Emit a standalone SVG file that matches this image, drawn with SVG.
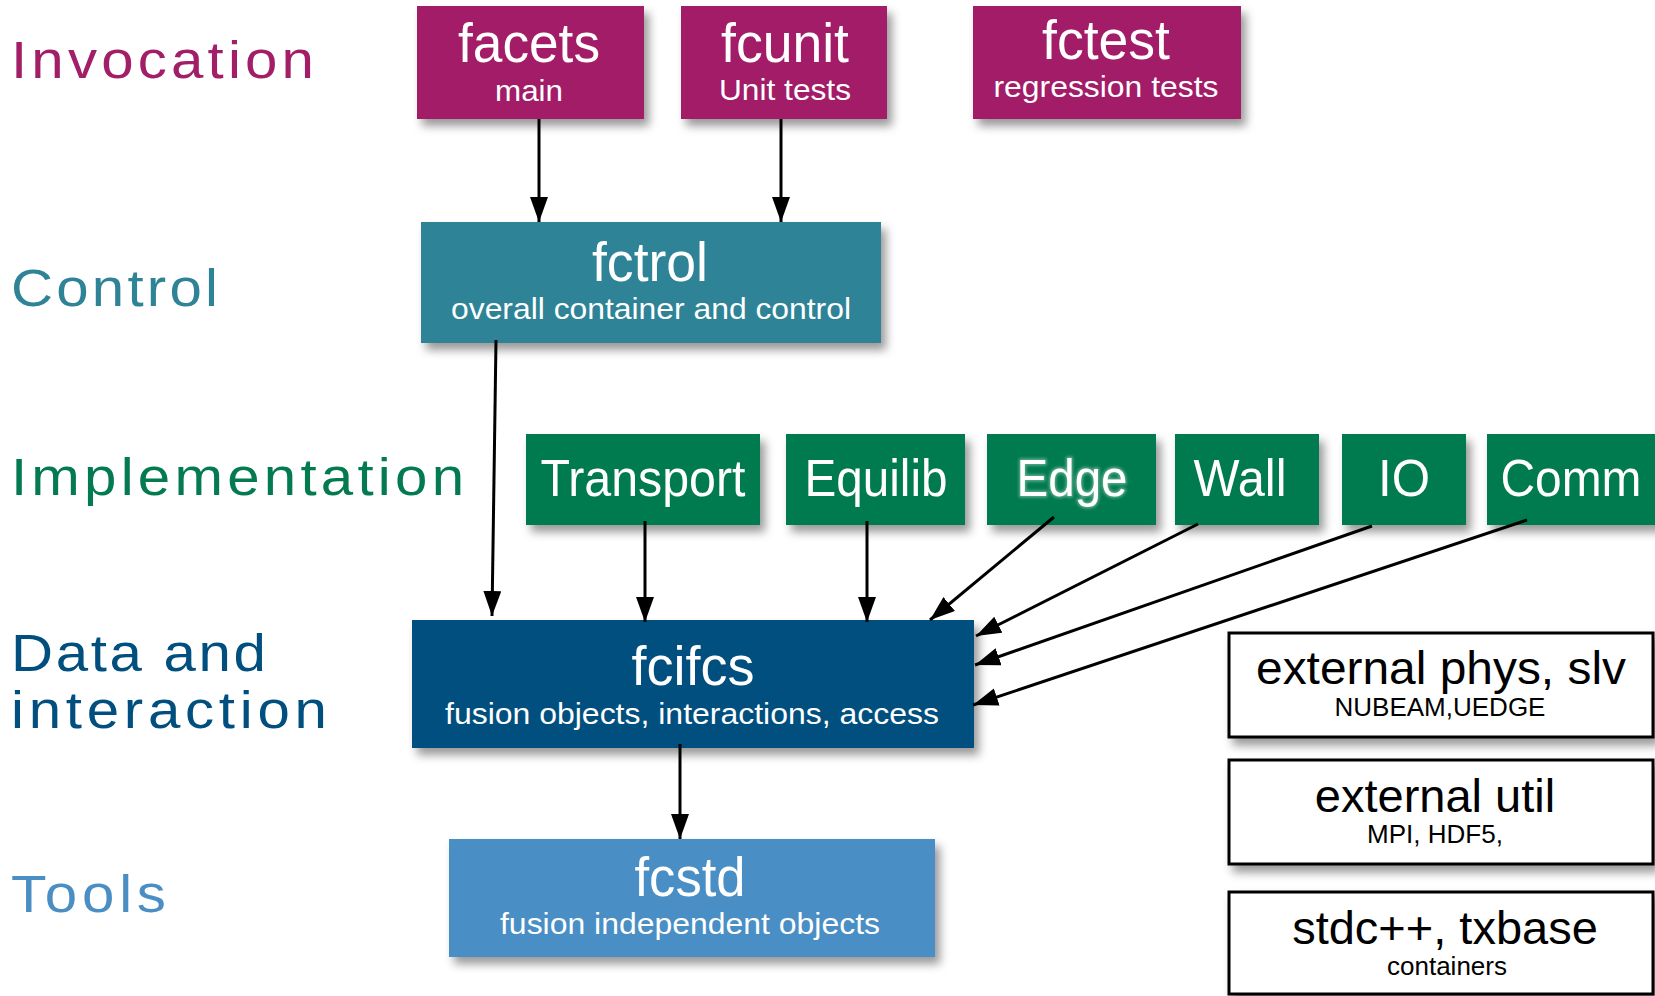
<svg xmlns="http://www.w3.org/2000/svg" width="1655" height="996" viewBox="0 0 1655 996">
  <defs>
    <filter id="shadow" x="-10%" y="-15%" width="130%" height="150%">
      <feDropShadow dx="5" dy="7" stdDeviation="5" flood-color="#000" flood-opacity="0.4"/>
    </filter>
    <filter id="halo" x="-10%" y="-20%" width="120%" height="140%">
      <feGaussianBlur stdDeviation="1.6"/>
    </filter>
    <marker id="arrow" markerUnits="userSpaceOnUse" markerWidth="28" markerHeight="20" refX="25" refY="9" orient="auto">
      <path d="M0,0 L25,9 L0,18 Z" fill="#000"/>
    </marker>
    <style>
      .layer { font-family: "Liberation Sans", Arial, sans-serif; font-size: 52px; }
      .inv { fill: #a21f67; }
      .ctl { fill: #2f8396; }
      .imp { fill: #037a4f; }
      .dat { fill: #004f7e; }
      .tls { fill: #4a8ec4; }
      .box { filter: url(#shadow); }
      .title { font-family: "Liberation Sans", Arial, sans-serif; font-size: 55px; fill: #fff; text-anchor: middle; }
      .sub { font-family: "Liberation Sans", Arial, sans-serif; font-size: 30px; fill: #fff; text-anchor: middle; }
      .impl { font-family: "Liberation Sans", Arial, sans-serif; font-size: 52px; fill: #fff; text-anchor: middle; }
      .ext { fill: #fff; stroke: #000; stroke-width: 3; filter: url(#shadow); }
      .extT { font-family: "Liberation Sans", Arial, sans-serif; font-size: 47px; fill: #000; text-anchor: middle; }
      .extS { font-family: "Liberation Sans", Arial, sans-serif; font-size: 26px; fill: #000; text-anchor: middle; }
      .edge { stroke: #000; stroke-width: 3; fill: none; marker-end: url(#arrow); }
    </style>
  </defs>

  <rect width="1655" height="996" fill="#fff"/>

  <!-- layer captions: slightly extended glyphs, letter-spaced to width -->
  <g id="layer-labels" class="layer" transform="scale(1.12,1)">
    <text class="inv" x="9.8" y="78" textLength="270.5" lengthAdjust="spacing">Invocation</text>
    <text class="ctl" x="9.8" y="306" textLength="184.8" lengthAdjust="spacing">Control</text>
    <text class="imp" x="9.8" y="495" textLength="404.5" lengthAdjust="spacing">Implementation</text>
    <text class="dat" x="9.8" y="671" textLength="227.7" lengthAdjust="spacing">Data and</text>
    <text class="dat" x="9.8" y="728" textLength="282.1" lengthAdjust="spacing">interaction</text>
    <text class="tls" x="9.8" y="912" textLength="138.4" lengthAdjust="spacing">Tools</text>
  </g>

  <!-- invocation layer -->
  <g id="facets">
    <rect class="box" x="417" y="6" width="227" height="113" fill="#a21f67"/>
    <text class="title" x="529" y="62" textLength="142" lengthAdjust="spacingAndGlyphs">facets</text>
    <text class="sub" x="529" y="101" textLength="68" lengthAdjust="spacingAndGlyphs">main</text>
  </g>
  <g id="fcunit">
    <rect class="box" x="681" y="6" width="206" height="113" fill="#a21f67"/>
    <text class="title" x="785" y="62" textLength="128" lengthAdjust="spacingAndGlyphs">fcunit</text>
    <text class="sub" x="785" y="100" textLength="132" lengthAdjust="spacingAndGlyphs">Unit tests</text>
  </g>
  <g id="fctest">
    <rect class="box" x="973" y="6" width="268" height="113" fill="#a21f67"/>
    <text class="title" x="1106" y="59" textLength="128" lengthAdjust="spacingAndGlyphs">fctest</text>
    <text class="sub" x="1106" y="97" textLength="225" lengthAdjust="spacingAndGlyphs">regression tests</text>
  </g>

  <!-- control layer -->
  <g id="fctrol">
    <rect class="box" x="421" y="222" width="460" height="121" fill="#2f8396"/>
    <text class="title" x="650" y="281" textLength="116" lengthAdjust="spacingAndGlyphs">fctrol</text>
    <text class="sub" x="651" y="319" textLength="400" lengthAdjust="spacingAndGlyphs">overall container and control</text>
  </g>

  <!-- implementation layer -->
  <g id="transport">
    <rect class="box" x="526" y="434" width="234" height="91" fill="#037a4f"/>
    <text class="impl" x="643" y="496" textLength="205" lengthAdjust="spacingAndGlyphs">Transport</text>
  </g>
  <g id="equilib">
    <rect class="box" x="786" y="434" width="179" height="91" fill="#037a4f"/>
    <text class="impl" x="876" y="496" textLength="143" lengthAdjust="spacingAndGlyphs">Equilib</text>
  </g>
  <g id="edge">
    <rect class="box" x="987" y="434" width="169" height="91" fill="#037a4f"/>
    <text class="impl" x="1072" y="496" textLength="111" lengthAdjust="spacingAndGlyphs" stroke="#cfe8dc" stroke-width="3" opacity="0.45" filter="url(#halo)">Edge</text>
    <text class="impl" x="1072" y="496" textLength="111" lengthAdjust="spacingAndGlyphs">Edge</text>
  </g>
  <g id="wall">
    <rect class="box" x="1175" y="434" width="144" height="91" fill="#037a4f"/>
    <text class="impl" x="1240" y="496" textLength="93" lengthAdjust="spacingAndGlyphs">Wall</text>
  </g>
  <g id="io">
    <rect class="box" x="1342" y="434" width="124" height="91" fill="#037a4f"/>
    <text class="impl" x="1404" y="496" textLength="52" lengthAdjust="spacingAndGlyphs">IO</text>
  </g>
  <g id="comm">
    <rect class="box" x="1487" y="434" width="180" height="91" fill="#037a4f"/>
    <text class="impl" x="1571" y="496" textLength="141" lengthAdjust="spacingAndGlyphs">Comm</text>
  </g>

  <!-- data and interaction layer -->
  <g id="fcifcs">
    <rect class="box" x="412" y="620" width="562" height="128" fill="#004f7e"/>
    <text class="title" x="693" y="685" textLength="123" lengthAdjust="spacingAndGlyphs">fcifcs</text>
    <text class="sub" x="692" y="724" textLength="494" lengthAdjust="spacingAndGlyphs">fusion objects, interactions, access</text>
  </g>

  <!-- tools layer -->
  <g id="fcstd">
    <rect class="box" x="449" y="839" width="486" height="118" fill="#4a8ec4"/>
    <text class="title" x="690" y="896" textLength="111" lengthAdjust="spacingAndGlyphs">fcstd</text>
    <text class="sub" x="690" y="934" textLength="380" lengthAdjust="spacingAndGlyphs">fusion independent objects</text>
  </g>

  <!-- external libraries -->
  <g id="ext-phys">
    <rect class="ext" x="1229" y="633" width="424" height="104"/>
    <text class="extT" x="1441" y="684" textLength="370" lengthAdjust="spacingAndGlyphs">external phys, slv</text>
    <text class="extS" x="1440" y="716">NUBEAM,UEDGE</text>
  </g>
  <g id="ext-util">
    <rect class="ext" x="1229" y="760" width="424" height="104"/>
    <text class="extT" x="1435" y="812">external util</text>
    <text class="extS" x="1435" y="843">MPI, HDF5,</text>
  </g>
  <g id="stdcxx">
    <rect class="ext" x="1229" y="892" width="424" height="102"/>
    <text class="extT" x="1445" y="944">stdc++, txbase</text>
    <text class="extS" x="1447" y="975">containers</text>
  </g>

  <!-- dependency arrows -->
  <g id="connectors">
    <path class="edge" d="M539,119 L539,222"/>
    <path class="edge" d="M781,119 L781,222"/>
    <path class="edge" d="M496,340 L492,616"/>
    <path class="edge" d="M645,521 L645,622"/>
    <path class="edge" d="M867,521 L867,622"/>
    <path class="edge" d="M1054,517 L930,620"/>
    <path class="edge" d="M1198,524 L976,636"/>
    <path class="edge" d="M1372,526 L975,665"/>
    <path class="edge" d="M1527,520 L973,705"/>
    <path class="edge" d="M680,744 L680,839"/>
  </g>
</svg>
